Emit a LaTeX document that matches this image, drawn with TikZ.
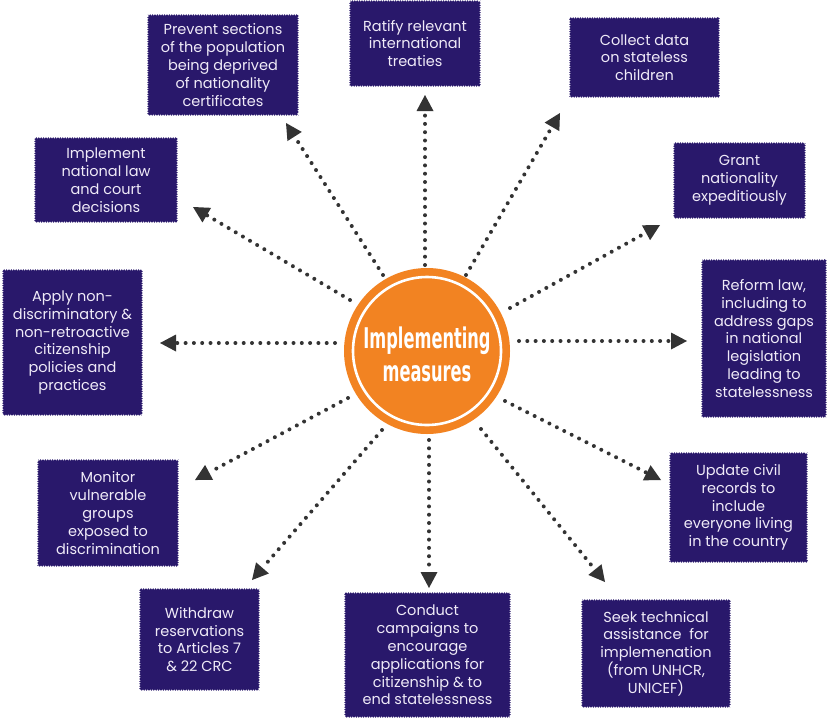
\documentclass[tikz,border=0pt]{standalone}
\usepackage{fontspec}
\setmainfont{Poppins}
\newfontfamily\titlefont{DejaVu Sans}[FakeStretch=0.57]
\usetikzlibrary{arrows.meta,decorations.pathmorphing}
\definecolor{navy}{RGB}{41,24,107}
\definecolor{boxtext}{RGB}{240,235,248}
\definecolor{ctrorange}{RGB}{242,131,34}
\definecolor{arrgray}{RGB}{51,51,51}
\tikzset{
  rbox/.style={fill=navy, text=boxtext, inner sep=0pt, align=center,
    font=\fontsize{14.5}{17.8}\selectfont,
    decorate, decoration={zigzag, segment length=2.4pt, amplitude=0.8pt}},
  ray/.style={draw=arrgray, line width=4pt, line cap=round,
    dash pattern=on 0pt off 8.3pt,
    -{Triangle[length=16pt,width=17pt,line width=0pt]}}
}
\newcommand\rbox[6]{%
  \node[rbox, minimum width={#4-#2}, minimum height={#5-#3}]
    (#1) at ({(#2+#4)/2},{(#3+#5)/2}) {#6};}
\begin{document}
\begin{tikzpicture}[x=1pt,y=-1pt]
\useasboundingbox (0,0) rectangle (829,718);
% boxes
\rbox{b1}{148}{15}{298}{115}{Prevent sections\\of the population\\being deprived\\of nationality\\certificates}
\rbox{b2}{350}{1}{480}{86}{Ratify relevant\\international\\treaties}
\rbox{b3}{570}{18}{719}{97}{Collect data\\on stateless\\children}
\rbox{b4}{35}{138}{177}{222}{Implement\\national law\\and court\\decisions}
\rbox{b5}{674}{143}{805}{218}{Grant\\nationality\\expeditiously}
\rbox{b6}{3}{270}{142}{415}{Apply non-\\discriminatory \&\\non-retroactive\\citizenship\\policies and\\practices}
\rbox{b7}{702}{260}{826}{417}{Reform law,\\including to\\address gaps\\in national\\legislation\\leading to\\statelessness}
\rbox{b8}{38}{460}{178}{566}{Monitor\\vulnerable\\groups\\exposed to\\discrimination}
\rbox{b9}{670}{453}{807}{562}{Update civil\\records to\\include\\everyone living\\in the country}
\rbox{b10}{140}{589}{259}{690}{Withdraw\\reservations\\to Articles 7\\\& 22 CRC}
\rbox{b11}{345}{593}{510}{717}{Conduct\\campaigns to\\encourage\\applications for\\citizenship \& to\\end statelessness}
\rbox{b12}{582}{600}{730}{707}{Seek technical\\assistance~~for\\implemenation\\(from UNHCR,\\UNICEF)}
% centre
\node[circle, fill=ctrorange, minimum size=166pt, inner sep=0pt] (c) at (427,351) {};
\draw[white, line width=2.6pt] (c.center) circle[radius=74pt];
\node[text=white, align=center, font=\titlefont\bfseries\fontsize{28.5}{33}\selectfont] (t) at (427,354) {Implementing\\measures};
% ray coordinates
\coordinate (s1) at (383,275); \coordinate (e1) at (286,123);
\coordinate (s2) at (425,265); \coordinate (e2) at (425,95);
\coordinate (s3) at (466,275); \coordinate (e3) at (560,113);
\coordinate (s4) at (350,300); \coordinate (e4) at (193,207);
\coordinate (s5) at (510,308); \coordinate (e5) at (660,225);
\coordinate (s6) at (335,343); \coordinate (e6) at (160,343);
\coordinate (s7) at (519,341); \coordinate (e7) at (687,341);
\coordinate (s8) at (348,398); \coordinate (e8) at (195,480);
\coordinate (s9) at (505,401); \coordinate (e9) at (661,480);
\coordinate (s10) at (382,430); \coordinate (e10) at (252,580);
\coordinate (s11) at (429,440); \coordinate (e11) at (429,588);
\coordinate (s12) at (481,429); \coordinate (e12) at (605,582);
\foreach \i in {1,...,12} { \draw[ray] (s\i) -- (e\i); }
\end{tikzpicture}
\end{document}
